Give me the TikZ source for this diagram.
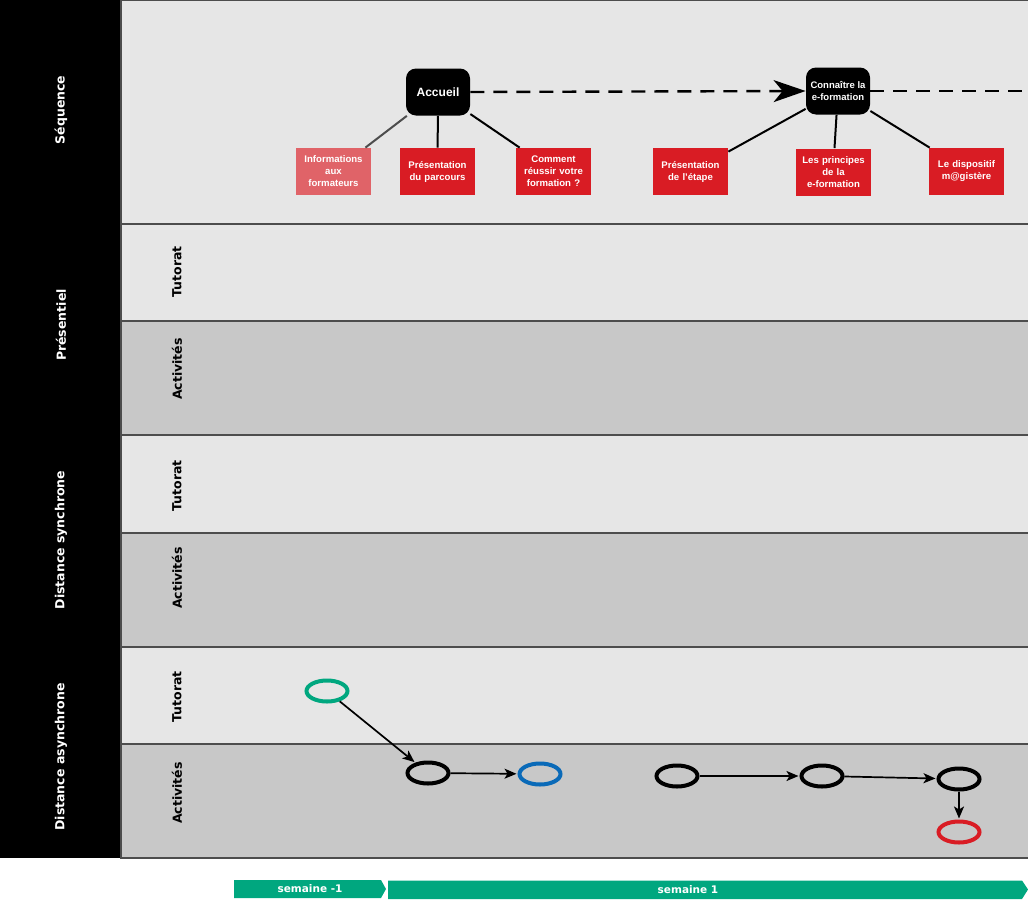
\documentclass[tikz,border=0pt]{standalone}
\usepackage{fontspec}
\setmainfont{Liberation Sans}
\newfontfamily\lanefont{DejaVu Sans}
\usetikzlibrary{arrows.meta}
\usetikzlibrary{positioning}
\usetikzlibrary{shapes.geometric}
\definecolor{lane}{HTML}{E6E6E6}
\definecolor{laneDark}{HTML}{C8C8C8}
\definecolor{bord}{HTML}{4D4D4D}
\definecolor{redbox}{HTML}{D91C24}
\definecolor{pinkbox}{HTML}{E06368}
\definecolor{weekgreen}{HTML}{00A77F}
\definecolor{blueact}{HTML}{0A6AB8}

\begin{document}
\begin{tikzpicture}[x=1pt,y=-1pt,thick,>=Stealth,
    lanetitle/.style={rotate=90,text=white,font=\lanefont\bfseries\fontsize{12.5}{14}\selectfont},
    sublane/.style={rotate=90,font=\lanefont\bfseries\fontsize{12.5}{14}\selectfont},
    etape/.style={fill=black,text=white,rounded corners=10pt,minimum width=64pt,minimum height=47pt,align=center,inner sep=1pt,font=\bfseries\fontsize{9.5}{11.5}\selectfont},
    ressource/.style={fill=redbox,text=white,minimum width=75pt,minimum height=47pt,text width=72pt,align=center,inner sep=0pt,font=\bfseries\fontsize{9.6}{12}\selectfont},
    activite/.style={ellipse,draw=black,line width=4pt,minimum width=41pt,minimum height=21pt,inner sep=0pt},
    lien/.style={line width=2pt},
    fleche/.style={-{Stealth[length=12pt,width=10pt,inset=3pt]},line width=1.7pt,shorten >=1pt},
    semaine/.style={text=white,font=\lanefont\bfseries\fontsize{10.5}{12}\selectfont}]
    \useasboundingbox (0,0) rectangle (1028,900);

    % lanes
    \fill[black] (0,0) rectangle (121,858);
    \foreach \haut/\bas/\teinte in {0/224/lane, 224/321/lane, 321/435/laneDark, 435/533/lane, 533/647/laneDark, 647/744/lane, 744/858/laneDark}
      \filldraw[fill=\teinte,draw=bord,line width=1.5pt] (121,\haut) rectangle (1029,\bas);

    \node[lanetitle] (sequence) at (61,110) {Séquence};
    \node[lanetitle] (presentiel) at (61,325) {Présentiel};
    \node[lanetitle] (synchrone) at (61,540) {Distance synchrone};
    \node[lanetitle] (asynchrone) at (61,757) {Distance asynchrone};

    \node[sublane] (tutoP) at (177,272) {Tutorat};
    \node[sublane] (actP) at (177,369) {Activités};
    \node[sublane] (tutoS) at (177,486) {Tutorat};
    \node[sublane] (actS) at (177,578) {Activités};
    \node[sublane] (tutoA) at (177,697) {Tutorat};
    \node[sublane] (actA) at (177,793) {Activités};

    % sequence
    \node[etape,font=\bfseries\fontsize{12}{14}\selectfont] (accueil) at (438,92) {Accueil};
    \node[etape] (connaitre) at (838,91) {Connaître la\\e-formation};
    \coordinate (sortie) at (1028,91);

    \node[ressource,fill=pinkbox] (info) at (333.5,171.5) {Informations\\aux\\formateurs};
    \node[ressource] (parcours) at (437.5,171.5) {Présentation\\du parcours};
    \node[ressource] (comment) at (553.5,171.5) {Comment\\réussir votre\\formation ?};
    \node[ressource] (etape) at (690.5,171.5) {Présentation\\de l'étape};
    \node[ressource] (principes) at (833.5,172) {Les principes\\de la\\e-formation};
    \node[ressource] (dispositif) at (966.5,171.5) {Le dispositif\\m@gistère};

    \draw[line width=2.4pt,dash pattern=on 14pt off 9pt,-{Stealth[length=32pt,width=22pt,inset=9pt]}] (accueil.east) -- (connaitre.west);
    \draw[line width=2.4pt,dash pattern=on 14pt off 9pt] (connaitre.east) -- (sortie);

    \draw[lien,draw=bord] (accueil) -- ([xshift=-6pt]info.north east);
    \draw[lien] (accueil) -- (parcours);
    \draw[lien] (accueil) -- ([xshift=4pt]comment.north west);
    \draw[lien] (connaitre) -- ([yshift=-4pt]etape.north east);
    \draw[lien] (connaitre) -- ([xshift=1pt]principes.north);
    \draw[lien] (connaitre) -- ([xshift=1pt]dispositif.north west);

    % distance asynchrone
    \node[activite,draw=weekgreen] (tuto1) at (327,691) {};
    \node[activite] (act1) at (428,773) {};
    \node[activite,draw=blueact] (act2) at (540,774) {};
    \node[activite] (act3) at (677,776) {};
    \node[activite] (act4) at (822,776) {};
    \node[activite] (act5) at (959,779) {};
    \node[activite,draw=redbox] (act6) at (959,832) {};

    \draw[fleche] (tuto1) -- (act1);
    \draw[fleche] (act1) -- (act2);
    \draw[fleche] (act3) -- (act4);
    \draw[fleche] (act4) -- (act5);
    \draw[fleche] (act5) -- (act6);

    % semaines
    \fill[weekgreen] (234,880) -- (381,880) -- (386,889) -- (381,898) -- (234,898) -- cycle;
    \fill[weekgreen] (388,880.5) -- (1022,880.5) -- (1028,889.5) -- (1022,899) -- (388,899) -- cycle;
    \node[semaine] (sem0) at (310,889) {semaine -1};
    \node[semaine] (sem1) at (688,890) {semaine 1};
  \end{tikzpicture}
\end{document}
